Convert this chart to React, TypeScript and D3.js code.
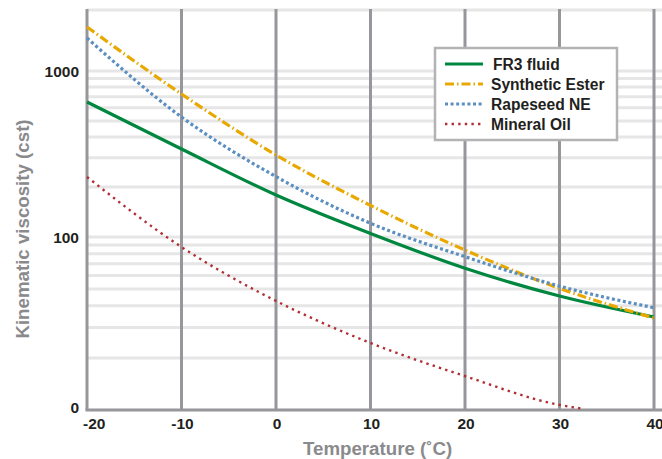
import React from "react";
import * as d3 from "d3";

const temps = [-20, -10, 0, 10, 20, 30, 40];
const fr3 = [650, 339, 179, 105, 66, 45.6, 34.5];
const synthEster = [1842, 727, 312, 155, 84, 50.5, 34];
const rapeseed = [1580, 528, 231, 121, 77, 52, 39];
const mineralTemps = [-20, -10, 0, 10, 20, 30, 32.3];
const mineral = [230, 87.5, 42.7, 24.4, 15.7, 10.7, 10.2];

const yTicks = [10, 100, 1000];
const yTickLabels = ["0", "100", "1000"];
const gridValues = [20, 30, 40, 50, 60, 70, 80, 90, 100, 200, 300, 400, 500, 600, 700, 800, 900, 1000];

const series = [
  { name: "FR3 fluid", x: temps, y: fr3, color: "#00873f", width: 3.2, dash: null },
  { name: "Synthetic Ester", x: temps, y: synthEster, color: "#e8a800", width: 3.2, dash: "9 3 1.5 3" },
  { name: "Rapeseed NE", x: temps, y: rapeseed, color: "#5b8fc0", width: 3.2, dash: "3 2.6" },
  { name: "Mineral Oil", x: mineralTemps, y: mineral, color: "#b12f34", width: 2.4, dash: "2.4 4.2" },
];

const W = 662;
const H = 459;
const font = "'Liberation Sans', Arial, Helvetica, sans-serif";

export default function App() {
  const x = d3.scaleLinear().domain([-20, 40]).range([87, 654]);
  // log scale, drawn slightly stretched in the lower decade like the original
  const y = d3.scaleLog().domain([10, 100, 1000]).range([410, 237, 71]);
  const topY = 10;

  const line = (xs: number[], ys: number[]) =>
    d3
      .line<number>()
      .x((_, i) => x(xs[i]))
      .y((d) => y(d))
      .curve(d3.curveMonotoneX)(ys) || "";

  const lg = { x0: 435, y0: 48, x1: 617, y1: 140 };

  return (
    <svg
      width={W}
      height={H}
      style={{ position: "absolute", left: 0, top: 0, display: "block", background: "#fff" }}
      fontFamily={font}
    >
      {/* horizontal grid */}
      <line x1={x(-20)} x2={W} y1={topY} y2={topY} stroke="#e6e6e7" strokeWidth={3} />
      {gridValues.map((v) => (
        <line key={v} x1={x(-20)} x2={W} y1={y(v)} y2={y(v)} stroke="#e6e6e7" strokeWidth={3} />
      ))}
      {/* vertical grid */}
      {x.ticks(6).map((t) => (
        <line key={t} x1={x(t)} x2={x(t)} y1={topY - 1} y2={y(10)} stroke="#96969b" strokeWidth={3} />
      ))}
      <line x1={x(-20) - 1.5} x2={W} y1={y(10)} y2={y(10)} stroke="#96969b" strokeWidth={3} />

      {/* series */}
      {series.map((s) => (
        <path
          key={s.name}
          d={line(s.x, s.y)}
          fill="none"
          stroke={s.color}
          strokeWidth={s.width}
          strokeDasharray={s.dash || undefined}
        />
      ))}

      {/* y tick labels */}
      {yTicks.map((t, i) => (
        <text
          key={t}
          x={79}
          y={y(t) + (i === 0 ? -3 : 0)}
          dy="0.36em"
          textAnchor="end"
          fontSize={15.5}
          fontWeight="bold"
          fill="#231f20"
        >
          {yTickLabels[i]}
        </text>
      ))}

      {/* x tick labels */}
      {x.ticks(6).map((t, i) => (
        <text
          key={t}
          x={i === 0 ? x(t) - 4 : x(t) + 1}
          y={429}
          textAnchor={i === 0 ? "start" : "middle"}
          fontSize={15.5}
          fontWeight="bold"
          fill="#231f20"
        >
          {t}
        </text>
      ))}

      {/* axis titles */}
      <text x={303} y={455} fontSize={18.7} fontWeight="bold" fill="#8a8a8d">
        Temperature (˚C)
      </text>
      <text
        transform="translate(29,229) rotate(-90)"
        textAnchor="middle"
        fontSize={18.7}
        fontWeight="bold"
        fill="#8a8a8d"
      >
        Kinematic viscosity (cst)
      </text>

      {/* legend */}
      <rect
        x={lg.x0}
        y={lg.y0}
        width={lg.x1 - lg.x0}
        height={lg.y1 - lg.y0}
        fill="#fff"
        stroke="#b3b3b5"
        strokeWidth={2.5}
      />
      {series.map((s, i) => {
        const cy = 64 + i * 20;
        return (
          <g key={s.name}>
            <line
              x1={445}
              x2={483}
              y1={cy}
              y2={cy}
              stroke={s.color}
              strokeWidth={s.width}
              strokeDasharray={s.dash || undefined}
            />
            <text x={i === 0 ? 493 : 491} y={cy + 5.5} fontSize={15.6} fontWeight="bold" fill="#231f20">
              {s.name}
            </text>
          </g>
        );
      })}
    </svg>
  );
}
